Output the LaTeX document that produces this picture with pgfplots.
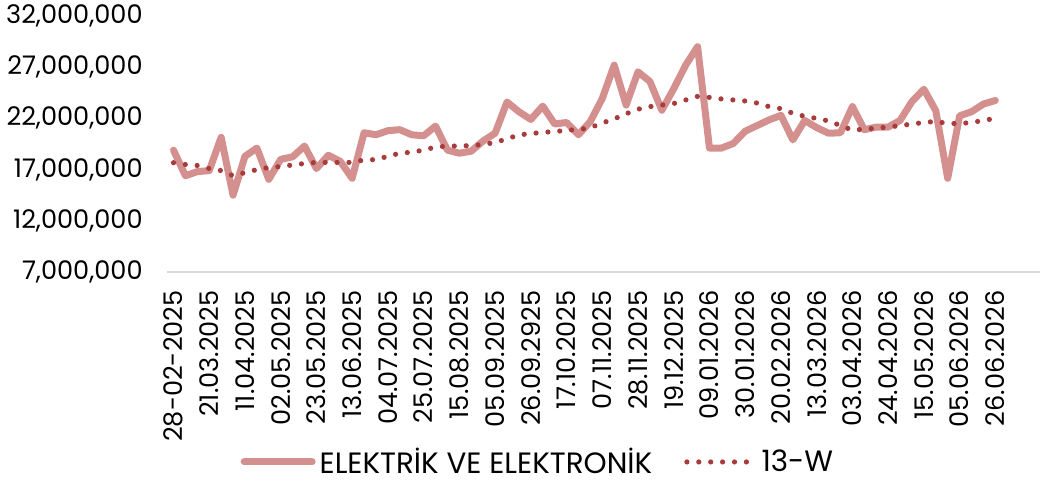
\documentclass[border=0pt]{standalone}
\usepackage{fontspec}
\setmainfont{Poppins}
\usepackage{pgfplots}
\pgfplotsset{compat=1.18}

\definecolor{mainline}{HTML}{D4908F}
\definecolor{avgline}{HTML}{A83C3C}
\definecolor{axisgray}{HTML}{D9D9D9}

% weekly values
\pgfplotstableread{
i val
0 18900000
1 16400000
2 16800000
3 16900000
4 20150000
5 14500000
6 18300000
7 19100000
8 16050000
9 18000000
10 18250000
11 19300000
12 17100000
13 18400000
14 17800000
15 16150000
16 20600000
17 20400000
18 20800000
19 20900000
20 20400000
21 20300000
22 21250000
23 18900000
24 18600000
25 18800000
26 19800000
27 20550000
28 23600000
29 22650000
30 21900000
31 23200000
32 21450000
33 21600000
34 20400000
35 21700000
36 23950000
37 27200000
38 23300000
39 26550000
40 25600000
41 22800000
42 24900000
43 27200000
44 29000000
45 19100000
46 19100000
47 19550000
48 20750000
49 21300000
50 21850000
51 22300000
52 19900000
53 21800000
54 21100000
55 20550000
56 20600000
57 23150000
58 20900000
59 21150000
60 21150000
61 21800000
62 23650000
63 24850000
64 22750000
65 16150000
66 22250000
67 22650000
68 23400000
69 23750000
}\weekly

% 13-week average
\pgfplotstableread{
i val
0 17670000
1 17500000
2 17400000
3 17100000
4 16900000
5 16400000
6 16700000
7 17000000
8 17200000
9 17300000
10 17450000
11 17600000
12 17700000
13 17700000
14 17700000
15 17700000
16 17950000
17 17970000
18 18300000
19 18600000
20 18700000
21 18900000
22 19200000
23 19300000
24 19300000
25 19350000
26 19450000
27 19650000
28 20000000
29 20400000
30 20500000
31 20650000
32 20700000
33 20850000
34 20900000
35 21100000
36 21550000
37 21950000
38 22450000
39 22900000
40 23150000
41 23300000
42 23450000
43 23800000
44 24150000
45 24050000
46 23900000
47 23800000
48 23700000
49 23500000
50 23150000
51 22950000
52 22500000
53 22200000
54 22000000
55 21750000
56 21300000
57 20850000
58 20950000
59 21050000
60 21150000
61 21300000
62 21450000
63 21600000
64 21700000
65 21500000
66 21500000
67 21600000
68 21800000
69 22000000
}\avg

\begin{document}
\begin{tikzpicture}
\useasboundingbox (0,0) rectangle (520pt,240.5pt);
\begin{axis}[
    at={(83.5pt,104.5pt)}, anchor=south west,
    scale only axis,
    width=436.5pt, height=128pt,
    xmin=-0.546, xmax=72.75,
    ymin=7000000, ymax=32000000,
    ytick={7000000,12000000,17000000,22000000,27000000,32000000},
    scaled y ticks=false,
    yticklabel style={anchor=east,
        /pgf/number format/fixed,
        /pgf/number format/1000 sep={,},
        /pgf/number format/assume math mode=true},
    xtick={0,3,...,69},
    xticklabels={28-02-2025,21.03.2025,11.04.2025,02.05.2025,23.05.2025,13.06.2025,04.07.2025,25.07.2025,15.08.2025,05.09.2025,26.09.2925,17.10.2025,07.11.2025,28.11.2025,19.12.2025,09.01.2026,30.01.2026,20.02.2026,13.03.2026,03.04.2026,24.04.2026,15.05.2026,05.06.2026,26.06.2026},
    tick label style={font=\fontsize{12.8pt}{14pt}\selectfont, inner sep=0pt},
    xticklabel style={rotate=90, anchor=east},
    xticklabel shift=9pt,
    yticklabel shift=12pt,
    major tick length=0pt,
    axis y line*=left,
    y axis line style={draw=none},
    axis x line*=bottom,
    x axis line style={axisgray, line width=0.75pt, -},
    clip=false,
    legend columns=2,
    legend style={at={(0.426,-0.742)}, anchor=center, draw=none, fill=none,
        font=\fontsize{14.7pt}{16pt}\selectfont,
        /tikz/every even column/.append style={column sep=14pt}},
    legend image code/.code={\draw[#1] (0pt,0pt) -- (34pt,0pt);},
]
\addplot[mainline, line width=3.5pt, line join=round, line cap=round] table[x=i, y=val] {\weekly};
\addlegendentry{ELEKTRİK VE ELEKTRONİK}
\addplot[avgline, line width=2.6pt, line cap=round, dash pattern=on 0pt off 5.95pt] table[x=i, y=val] {\avg};
\addlegendentry{13-W}
\end{axis}
\end{tikzpicture}
\end{document}
